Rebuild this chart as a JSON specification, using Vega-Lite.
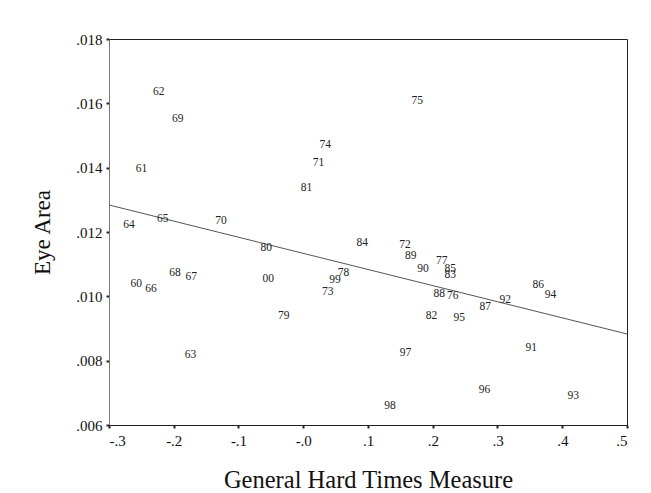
{
  "$schema": "https://vega.github.io/schema/vega-lite/v6.json",
  "autosize": "none",
  "width": 518,
  "height": 386,
  "padding": {"left": 109, "top": 39, "right": 24, "bottom": 68},
  "background": "white",
  "config": {
    "view": {"stroke": "#222", "strokeWidth": 1},
    "font": "Liberation Serif",
    "axis": {
      "grid": false,
      "domainColor": "#222",
      "tickColor": "#222",
      "tickSize": 3,
      "tickWidth": 2,
      "labelFont": "Liberation Serif",
      "labelFontSize": 15,
      "labelColor": "#111",
      "titleFont": "Liberation Serif",
      "titleFontWeight": "normal",
      "titleColor": "#111"
    }
  },
  "datasets": {
    "pts": [
      {"year": "62", "hard": -0.223, "eye": 0.01634},
      {"year": "69", "hard": -0.194, "eye": 0.01551},
      {"year": "61", "hard": -0.250, "eye": 0.01395},
      {"year": "74", "hard": 0.034, "eye": 0.01471},
      {"year": "71", "hard": 0.0235, "eye": 0.01416},
      {"year": "81", "hard": 0.005, "eye": 0.01336},
      {"year": "65", "hard": -0.217, "eye": 0.01241},
      {"year": "70", "hard": -0.127, "eye": 0.01235},
      {"year": "64", "hard": -0.269, "eye": 0.01222},
      {"year": "75", "hard": 0.176, "eye": 0.01608},
      {"year": "80", "hard": -0.057, "eye": 0.01150},
      {"year": "68", "hard": -0.198, "eye": 0.01072},
      {"year": "67", "hard": -0.173, "eye": 0.01060},
      {"year": "60", "hard": -0.258, "eye": 0.01038},
      {"year": "66", "hard": -0.235, "eye": 0.01022},
      {"year": "00", "hard": -0.054, "eye": 0.01053},
      {"year": "79", "hard": -0.030, "eye": 0.00938},
      {"year": "63", "hard": -0.174, "eye": 0.00818},
      {"year": "73", "hard": 0.038, "eye": 0.01014},
      {"year": "84", "hard": 0.091, "eye": 0.01165},
      {"year": "72", "hard": 0.157, "eye": 0.01160},
      {"year": "89", "hard": 0.166, "eye": 0.01126},
      {"year": "77", "hard": 0.214, "eye": 0.01110},
      {"year": "90", "hard": 0.185, "eye": 0.01085},
      {"year": "85", "hard": 0.227, "eye": 0.01084},
      {"year": "83", "hard": 0.227, "eye": 0.01067},
      {"year": "78", "hard": 0.062, "eye": 0.01074},
      {"year": "99", "hard": 0.049, "eye": 0.01051},
      {"year": "88", "hard": 0.210, "eye": 0.01007},
      {"year": "76", "hard": 0.231, "eye": 0.01001},
      {"year": "92", "hard": 0.312, "eye": 0.00989},
      {"year": "87", "hard": 0.281, "eye": 0.00967},
      {"year": "86", "hard": 0.363, "eye": 0.01035},
      {"year": "94", "hard": 0.382, "eye": 0.01004},
      {"year": "82", "hard": 0.198, "eye": 0.00939},
      {"year": "95", "hard": 0.241, "eye": 0.00933},
      {"year": "97", "hard": 0.158, "eye": 0.00824},
      {"year": "91", "hard": 0.352, "eye": 0.00840},
      {"year": "96", "hard": 0.280, "eye": 0.00709},
      {"year": "93", "hard": 0.417, "eye": 0.00690},
      {"year": "98", "hard": 0.134, "eye": 0.00659}
    ],
    "fit": [
      {"hard": -0.3, "eye": 0.01284},
      {"hard": 0.5, "eye": 0.00883}
    ]
  },
  "layer": [
    {
      "data": {"name": "fit"},
      "mark": {"type": "line", "color": "#555", "strokeWidth": 1},
      "encoding": {
        "x": {"field": "hard", "type": "quantitative"},
        "y": {"field": "eye", "type": "quantitative"}
      }
    },
    {
      "data": {"name": "pts"},
      "mark": {"type": "text", "font": "Liberation Serif", "fontSize": 11.5, "color": "#222", "baseline": "middle", "align": "center"},
      "encoding": {
        "x": {
          "field": "hard", "type": "quantitative",
          "scale": {"domain": [-0.3, 0.5], "nice": false, "zero": false},
          "axis": {
            "title": "General Hard Times Measure",
            "titleFontSize": 24.5,
            "values": [-0.3, -0.2, -0.1, 0, 0.1, 0.2, 0.3, 0.4, 0.5],
            "labelExpr": "(datum.value <= 0 ? '-' : '') + '.' + format(abs(round(datum.value * 10)), 'd')",
            "labelPadding": 5,
            "titlePadding": 20
          }
        },
        "y": {
          "field": "eye", "type": "quantitative",
          "scale": {"domain": [0.006, 0.018], "nice": false, "zero": false},
          "axis": {
            "title": "Eye Area",
            "titleFontSize": 23,
            "domainColor": "#777",
            "values": [0.006, 0.008, 0.010, 0.012, 0.014, 0.016, 0.018],
            "labelExpr": "'.' + format(round(datum.value * 1000), '03d')",
            "labelPadding": 4,
            "titlePadding": 21
          }
        },
        "text": {"field": "year"}
      }
    }
  ]
}
